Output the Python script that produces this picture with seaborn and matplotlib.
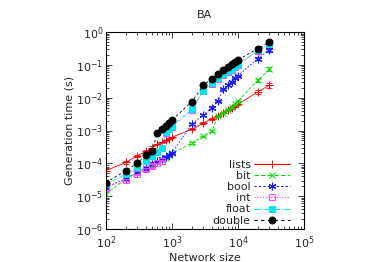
import numpy as np
import pandas as pd
import seaborn as sns
import matplotlib
matplotlib.use("Agg")
import matplotlib.pyplot as plt
from matplotlib.ticker import LogLocator, FixedLocator
from matplotlib.lines import Line2D

sizes = [100, 200, 300, 400, 500, 600, 700, 800, 900, 1000,
         2000, 3000, 4000, 5000, 6000, 7000, 8000, 9000, 10000, 20000, 30000]

lists_t = [6.0e-5, 1.07e-4, 1.7e-4, 2.3e-4, 3.0e-4, 3.8e-4, 4.4e-4, 5.0e-4, 5.6e-4, 6.2e-4,
           1.1e-3, 1.7e-3, 2.3e-3, 2.8e-3, 3.5e-3, 4.2e-3, 4.8e-3, 5.5e-3, 6.3e-3, 1.5e-2, 2.4e-2]
bit_t = [1.2e-5, 3.3e-5, 5.3e-5, 7.0e-5, 9.0e-5, 1.1e-4, 1.3e-4, 1.5e-4, 1.75e-4, 2.0e-4,
         4.2e-4, 6.6e-4, 9.5e-4, 2.7e-3, 3.5e-3, 4.3e-3, 5.2e-3, 6.2e-3, 7.8e-3, 3.4e-2, 7.4e-2]
bool_t = [1.9e-5, 3.4e-5, 5.3e-5, 7.2e-5, 9.5e-5, 1.2e-4, 1.4e-4, 1.6e-4, 1.85e-4, 2.1e-4,
          1.6e-3, 3.0e-3, 5.0e-3, 7.8e-3, 1.8e-2, 2.4e-2, 3.1e-2, 3.9e-2, 4.7e-2, 0.155, 0.29]
int_t = [1.8e-5, 3.1e-5, 4.6e-5, 6.5e-5, 8.2e-5, 1.0e-4, 1.2e-4, 8.6e-4, 1.1e-3, 1.3e-3,
         4.2e-3, 1.6e-2, 2.6e-2, 3.6e-2, 4.8e-2, 6.0e-2, 7.2e-2, 8.4e-2, 0.10, 0.26, 0.42]
float_t = [2.3e-5, 4.7e-5, 7.6e-5, 1.15e-4, 1.65e-4, 2.2e-4, 2.9e-4, 9.0e-4, 1.15e-3, 1.35e-3,
           4.5e-3, 1.65e-2, 2.8e-2, 3.9e-2, 5.1e-2, 6.3e-2, 7.6e-2, 8.9e-2, 0.107, 0.275, 0.44]
double_t = [2.6e-5, 6.0e-5, 1.03e-4, 1.75e-4, 2.4e-4, 8.6e-4, 1.1e-3, 1.4e-3, 1.75e-3, 2.1e-3,
            7.5e-3, 2.4e-2, 3.7e-2, 5.2e-2, 6.8e-2, 8.8e-2, 0.106, 0.125, 0.142, 0.31, 0.50]

rel_err = [0.15, 0.08, 0.06, 0.12, 0.15, 0.05, 0.05, 0.05, 0.05, 0.05,
           0.05, 0.05, 0.08, 0.05, 0.05, 0.05, 0.05, 0.05, 0.05, 0.12, 0.15]

series_names = ["lists", "bit", "bool", "int", "float", "double"]
series_vals = [lists_t, bit_t, bool_t, int_t, float_t, double_t]

styles = {
    "lists":  dict(color="#ff0000", marker="+", ls="-", ms=6, mfc="#ff0000", mew=0.7),
    "bit":    dict(color="#00dd00", marker="x", ls=(0, (4, 2)), ms=4.5, mfc="#00dd00", mew=0.7),
    "bool":   dict(color="#1a1aff", marker=(6, 2, 0), ls=(0, (2, 2)), ms=5.5, mfc="#1a1aff", mew=0.8),
    "int":    dict(color="#ff44ff", marker="s", ls=(0, (1, 1.5)), ms=4.5, mfc="none", mew=0.7),
    "float":  dict(color="#00e5ee", marker="s", ls=(0, (5, 1.5, 1, 1.5)), ms=5, mfc="#00e5ee", mew=0.7),
    "double": dict(color="#000000", marker="o", ls=(0, (3, 3)), ms=5, mfc="#000000", mew=0.7),
}

sns.set_style("ticks")
plt.rcParams["font.family"] = ["DejaVu Sans"]
plt.rcParams["mathtext.default"] = "regular"

fig = plt.figure(figsize=(3.74, 2.62), dpi=100)
ax = fig.add_axes([106 / 374, 1 - 229 / 262, (304 - 106) / 374, (229 - 32) / 262])

handles = []
for name, vals in zip(series_names, series_vals):
    st = styles[name]
    df = pd.DataFrame({"size": sizes, "time": vals})
    sns.lineplot(data=df, x="size", y="time", ax=ax, color=st["color"],
                 linestyle=st["ls"], linewidth=0.6, marker=st["marker"],
                 markersize=st["ms"], markerfacecolor=st["mfc"],
                 markeredgecolor=st["color"], markeredgewidth=st["mew"],
                 estimator=None, sort=False, legend=False)
    v = np.array(vals)
    ax.errorbar(sizes, v, yerr=v * np.array(rel_err), fmt="none",
                ecolor=st["color"], elinewidth=0.6, capsize=2, capthick=0.6)
    handles.append(Line2D([], [], color=st["color"], linestyle=st["ls"], linewidth=0.8,
                          marker=st["marker"], markersize=st["ms"],
                          markerfacecolor=st["mfc"], markeredgecolor=st["color"],
                          markeredgewidth=st["mew"], label=name))

ax.set_xscale("log")
ax.set_yscale("log")
ax.set_xlim(1e2, 1e5)
ax.set_ylim(1e-6, 1e0)

ax.xaxis.set_major_locator(FixedLocator([1e2, 1e3, 1e4, 1e5]))
ax.yaxis.set_major_locator(FixedLocator([1e-6, 1e-5, 1e-4, 1e-3, 1e-2, 1e-1, 1e0]))
ax.xaxis.set_minor_locator(LogLocator(base=10, subs=np.arange(2, 10), numticks=20))
ax.yaxis.set_minor_locator(LogLocator(base=10, subs=np.arange(2, 10), numticks=20))
ax.yaxis.set_minor_formatter(plt.NullFormatter())
ax.xaxis.set_minor_formatter(plt.NullFormatter())
ax.set_xticklabels([r"$10^{2}$", r"$10^{3}$", r"$10^{4}$", r"$10^{5}$"])
ax.set_yticklabels([r"$10^{-6}$", r"$10^{-5}$", r"$10^{-4}$", r"$10^{-3}$",
                    r"$10^{-2}$", r"$10^{-1}$", r"$10^{0}$"])

ax.tick_params(which="both", direction="in", top=True, right=True, labelsize=8, width=0.6)
ax.tick_params(axis="x", which="major", length=4, pad=4)
ax.tick_params(axis="y", which="major", length=4, pad=2)
ax.tick_params(which="minor", length=2)
for sp in ax.spines.values():
    sp.set_linewidth(0.8)
    sp.set_color("black")

ax.set_xlabel("Network size", fontsize=8, labelpad=1)
ax.set_ylabel("Generation time (s)", fontsize=8, labelpad=1)
ax.set_title("BA", fontsize=8, pad=10)

leg = ax.legend(handles=handles, loc="lower right", markerfirst=False, frameon=False,
                fontsize=8, handlelength=3.2, handletextpad=0.3, labelspacing=0.1,
                borderaxespad=0.0, bbox_to_anchor=(0.95, -0.005))

fig.savefig("out.png", dpi=100)
